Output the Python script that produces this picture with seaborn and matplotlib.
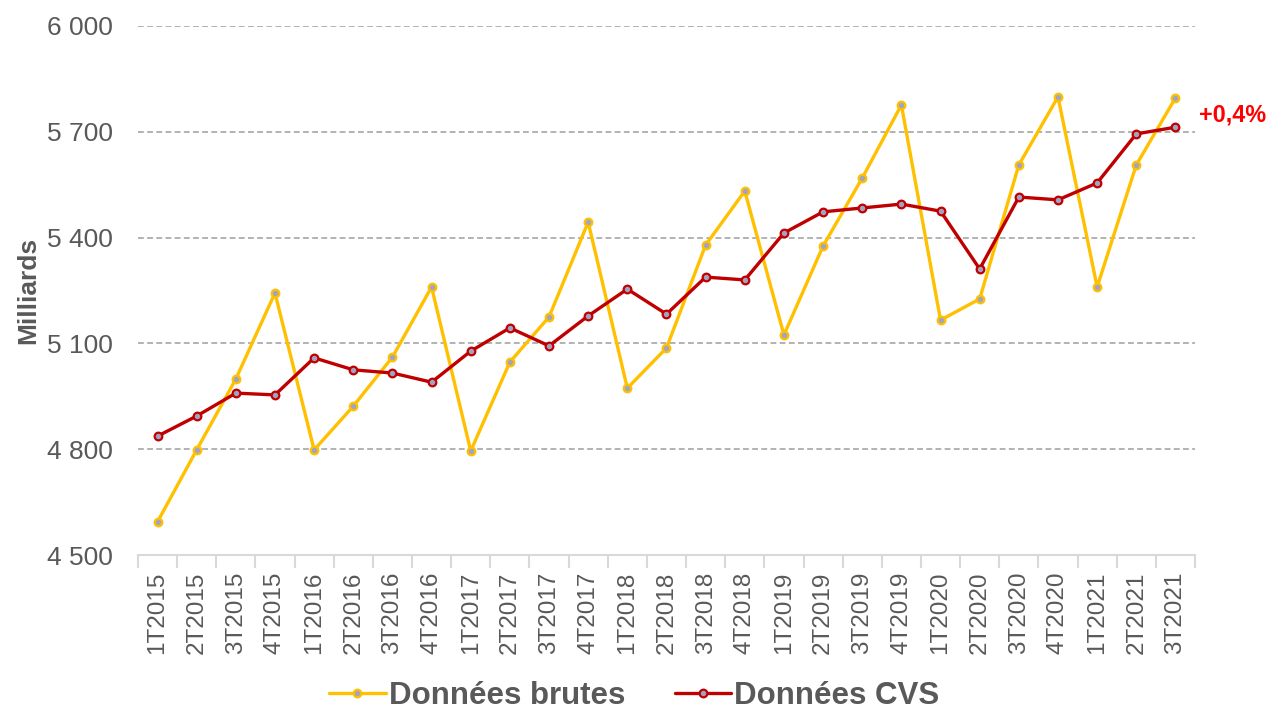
import matplotlib
matplotlib.use("Agg")
import matplotlib.pyplot as plt
import seaborn as sns
import pandas as pd
import numpy as np
from matplotlib.ticker import FuncFormatter, FixedLocator
from matplotlib.lines import Line2D

quarters = ["1T2015", "2T2015", "3T2015", "4T2015",
            "1T2016", "2T2016", "3T2016", "4T2016",
            "1T2017", "2T2017", "3T2017", "4T2017",
            "1T2018", "2T2018", "3T2018", "4T2018",
            "1T2019", "2T2019", "3T2019", "4T2019",
            "1T2020", "2T2020", "3T2020", "4T2020",
            "1T2021", "2T2021", "3T2021"]
brutes = [4594, 4798, 4999, 5243, 4798, 4922, 5061, 5260, 4795, 5047,
          5175, 5444, 4973, 5087, 5379, 5532, 5124, 5376, 5569, 5776,
          5166, 5226, 5606, 5799, 5260, 5606, 5796]
cvs = [4837, 4894, 4959, 4954, 5059, 5025, 5016, 4990, 5078, 5144,
       5093, 5178, 5254, 5183, 5288, 5280, 5413, 5473, 5484, 5495,
       5475, 5311, 5515, 5507, 5555, 5694, 5713]
series_names = ["Données brutes", "Données CVS"]
annotation = "+0,4%"
yticks = [4500, 4800, 5100, 5400, 5700, 6000]

YELLOW = "#FFC000"
RED = "#C00000"
MFACE = "#A0A4C4"
TXT = "#595959"

sns.set_theme(style="white")
plt.rcParams["font.family"] = ["Liberation Sans", "DejaVu Sans"]

df = pd.DataFrame({
    "idx": list(range(len(quarters))) * 2,
    "value": brutes + cvs,
    "serie": [series_names[0]] * len(quarters) + [series_names[1]] * len(quarters),
})

fig = plt.figure(figsize=(12.69, 7.12), dpi=100)
ax = fig.add_axes([0.1087, 0.2205, 0.8330, 0.7430])

for name, col in zip(series_names, [YELLOW, RED]):
    sub = df[df["serie"] == name]
    sns.lineplot(data=sub, x="idx", y="value", ax=ax, color=col, linewidth=2.4,
                 marker="o", markersize=5.5, markerfacecolor=MFACE,
                 markeredgecolor=col, markeredgewidth=1.6, legend=False,
                 zorder=3 if name == series_names[1] else 2)

ax.set_xlim(-0.5, len(quarters) - 0.5)
ax.set_ylim(4500, 6000)
ax.set_yticks(yticks)
ax.yaxis.set_major_formatter(FuncFormatter(lambda v, p: f"{int(v):,}".replace(",", " ")))
ax.grid(axis="y", color="#A6A6A6", linestyle=(0, (3.5, 2)), linewidth=1.2)
ax.grid(axis="x", visible=False)

ax.set_xticks(range(len(quarters)))
ax.set_xticklabels(quarters, rotation=90, fontsize=17.5, color=TXT)
ax.xaxis.set_minor_locator(FixedLocator(np.arange(-0.5, len(quarters), 1.0)))
ax.tick_params(axis="x", which="major", length=0, pad=12)
ax.tick_params(axis="x", which="minor", length=9, width=1.5, color="#D9D9D9", direction="out", bottom=True)
ax.tick_params(axis="y", length=0, pad=18, labelsize=19, labelcolor=TXT)

for s in ["top", "right", "left"]:
    ax.spines[s].set_visible(False)
ax.spines["bottom"].set_color("#D9D9D9")
ax.spines["bottom"].set_linewidth(1.5)

ax.set_xlabel("")
ax.set_ylabel("Milliards", fontsize=19, fontweight="bold", color=TXT, labelpad=5)

ax.text(len(quarters) - 0.4, 5748, annotation, color="#FF0000", fontsize=16.8,
        fontweight="bold", ha="left", va="center", clip_on=False)

handles = [Line2D([0], [0], color=c, linewidth=2.4, marker="o", markersize=5.5,
                  markerfacecolor=MFACE, markeredgecolor=c, markeredgewidth=1.6)
           for c in [YELLOW, RED]]
leg = fig.legend(handles, series_names, loc="center", bbox_to_anchor=(0.5, 0.022),
                 ncol=2, frameon=False, handlelength=1.8, handletextpad=0.1,
                 columnspacing=1.6, borderpad=0.0,
                 prop={"size": 22.5, "weight": "bold"})
for t in leg.get_texts():
    t.set_color(TXT)

fig.savefig("out.png", dpi=100)
